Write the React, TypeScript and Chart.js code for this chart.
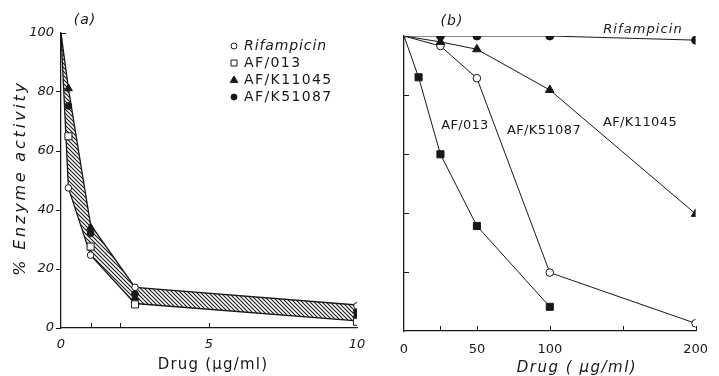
import React, { useEffect, useRef } from 'react';
import { Chart, registerables } from 'chart.js';

Chart.register(...registerables);

const INK = '#181818';
const FONT = '"DejaVu Sans", "Liberation Sans", sans-serif';

// ---------- Panel (a) ----------
const seriesNames = ['Rifampicin', 'AF/013', 'AF/K11045', 'AF/K51087'];
const doseA = [0.25, 1, 2.5, 10];
const rifampicinA = [47.5, 24.7, 13.8, 7.5];
const af013A = [65, 27.6, 8.0, 2.1];
const afK11045A = [81.2, 34, 10.3, 4.4];
const afK51087A = [75.3, 32.1, 11.5, 5.5];
const bandUpperX = [0, 0.25, 1, 2.5, 10];
const bandUpperY = [100, 81.2, 35, 13.8, 7.8];
const bandLowerX = [0, 0.25, 1, 2.5, 10];
const bandLowerY = [100, 47.5, 24.7, 8.3, 2.4];

// ---------- Panel (b) ----------
const doseB = [0, 25, 50, 100, 200];
const rifampicinB = [100, 100, 100, 100, 98.6];
const afK11045B = [100, 98, 95.5, 81.7, 39.7];
const afK51087B = [100, 96.6, 85.7, 19.8, 2.6];
const doseB013 = [0, 10, 25, 50, 100];
const af013B = [100, 86, 59.9, 35.6, 8.2];

// ---------- Ticks ----------
const yTicks = [0, 20, 40, 60, 80, 100];
const xTicksA = [0, 1, 2, 5, 10];
const xLabelsA = [0, 5, 10];
const xTicksB = [0, 25, 50, 100, 150, 200];
const xLabelsB = [0, 50, 100, 200];

const pts = (xs: number[], ys: number[]) => xs.map((x, i) => ({ x, y: ys[i] }));

function makeHatch(ctx: CanvasRenderingContext2D) {
  const c = document.createElement('canvas');
  c.width = 4;
  c.height = 4;
  const g = c.getContext('2d')!;
  g.strokeStyle = '#1a1a1a';
  g.lineWidth = 1.1;
  g.beginPath();
  g.moveTo(0, 0); g.lineTo(4, 4);
  g.moveTo(-1, 3); g.lineTo(1, 5);
  g.moveTo(3, -1); g.lineTo(5, 1);
  g.stroke();
  return ctx.createPattern(c, 'repeat');
}

type TextItem = { text: string; x: number; y: number; size: number; italic?: boolean; spacing?: number; align?: CanvasTextAlign; rotate?: number };

function textPlugin(items: TextItem[]) {
  return {
    id: 'texts',
    afterDraw(chart: any) {
      const ctx = chart.ctx as CanvasRenderingContext2D;
      for (const it of items) {
        ctx.save();
        ctx.fillStyle = INK;
        ctx.font = `${it.italic ? 'italic ' : ''}${it.size}px ${FONT}`;
        (ctx as any).letterSpacing = `${it.spacing ?? 0}px`;
        ctx.textAlign = it.align ?? 'center';
        ctx.textBaseline = 'middle';
        ctx.translate(it.x, it.y);
        if (it.rotate) ctx.rotate(it.rotate);
        ctx.fillText(it.text, 0, 0);
        ctx.restore();
      }
    },
  };
}

function inwardTicks(axes: { id: string; values: number[] }[], len: number) {
  return {
    id: 'inwardTicks',
    afterDraw(chart: any) {
      const ctx = chart.ctx as CanvasRenderingContext2D;
      ctx.save();
      ctx.strokeStyle = INK;
      ctx.lineWidth = 1;
      ctx.beginPath();
      for (const a of axes) {
        const s = chart.scales[a.id];
        for (const v of a.values) {
          const p = Math.round(s.getPixelForValue(v)) + 0.5;
          if (s.isHorizontal()) {
            ctx.moveTo(p, s.top);
            ctx.lineTo(p, s.top - len);
          } else {
            ctx.moveTo(s.right, p);
            ctx.lineTo(s.right + len, p);
          }
        }
      }
      ctx.stroke();
      ctx.restore();
    },
  };
}

function drawSymbol(ctx: CanvasRenderingContext2D, style: string, filled: boolean, x: number, y: number, r: number) {
  ctx.beginPath();
  if (style === 'circle') ctx.arc(x, y, r, 0, Math.PI * 2);
  else if (style === 'rect') ctx.rect(x - r * 0.75, y - r * 0.75, r * 1.5, r * 1.5);
  else {
    ctx.moveTo(x, y - r);
    ctx.lineTo(x + r * 0.95, y + r * 0.6);
    ctx.lineTo(x - r * 0.95, y + r * 0.6);
    ctx.closePath();
  }
  ctx.fillStyle = filled ? INK : '#fff';
  ctx.fill();
  ctx.strokeStyle = INK;
  ctx.lineWidth = 1;
  ctx.stroke();
}

const legendPlugin = {
  id: 'legendA',
  afterDraw(chart: any) {
    const ctx = chart.ctx as CanvasRenderingContext2D;
    const rows = [46, 63, 80, 97];
    for (let i = 0; i < 4; i++) {
      const ds = chart.data.datasets[i];
      ctx.save();
      drawSymbol(ctx, ds.pointStyle, ds.pointBackgroundColor !== '#fff', 234, rows[i], ds.pointStyle === 'circle' ? 3 : 4);
      ctx.fillStyle = INK;
      ctx.font = `${i === 0 ? 'italic ' : ''}14px ${FONT}`;
      (ctx as any).letterSpacing = i === 0 ? '0.9px' : '1.4px';
      ctx.textAlign = 'left';
      ctx.textBaseline = 'middle';
      ctx.fillText(ds.label, 244, rows[i]);
      ctx.restore();
    }
  },
};

const tickFontA = { family: FONT, size: 13, style: 'italic' };
const tickFontB = { family: FONT, size: 13 };

export default function App() {
  const refA = useRef<HTMLCanvasElement>(null);
  const refB = useRef<HTMLCanvasElement>(null);

  useEffect(() => {
    const ctxA = refA.current!.getContext('2d')!;
    const hatch = makeHatch(ctxA);
    const pointDs = (label: string, ys: number[], style: string, filled: boolean, r: number) => ({
      label,
      data: pts(doseA, ys),
      pointStyle: style,
      pointRadius: r,
      pointBackgroundColor: filled ? INK : '#fff',
      pointBorderColor: INK,
      pointBorderWidth: 1,
      showLine: false,
    });
    const chartA = new Chart(ctxA, {
      type: 'scatter',
      data: {
        datasets: [
          pointDs(seriesNames[0], rifampicinA, 'circle', false, 3.3),
          pointDs(seriesNames[1], af013A, 'rect', false, 5),
          pointDs(seriesNames[2], afK11045A, 'triangle', true, 4.6),
          pointDs(seriesNames[3], afK51087A, 'circle', true, 3.4),
          {
            label: 'upper',
            data: pts(bandUpperX, bandUpperY),
            showLine: true,
            pointRadius: 0,
            borderColor: INK,
            borderWidth: 1.3,
            fill: '+1',
            backgroundColor: hatch as any,
          },
          {
            label: 'lower',
            data: pts(bandLowerX, bandLowerY),
            showLine: true,
            pointRadius: 0,
            borderColor: INK,
            borderWidth: 1.3,
            fill: false,
          },
        ] as any,
      },
      options: {
        animation: false,
        responsive: false,
        layout: { padding: { top: 33, right: 23, bottom: 0, left: 0 } },
        plugins: { legend: { display: false }, tooltip: { enabled: false } },
        scales: {
          x: {
            type: 'linear',
            min: 0,
            max: 10,
            afterBuildTicks: (s: any) => { s.ticks = xTicksA.map((v) => ({ value: v })); },
            afterFit: (s: any) => { s.height = 48; },
            ticks: {
              autoSkip: false,
              maxRotation: 0,
              padding: 9,
              color: INK,
              font: tickFontA,
              callback: (v: any) => (xLabelsA.includes(v) ? String(v) : ''),
            },
            grid: { drawOnChartArea: false, drawTicks: false, color: INK },
            border: { color: INK, width: 1.3 },
          },
          y: {
            type: 'linear',
            min: 0,
            max: 100,
            afterBuildTicks: (s: any) => { s.ticks = yTicks.map((v) => ({ value: v })); },
            afterFit: (s: any) => { s.width = 61; },
            ticks: { padding: 2, color: INK, font: tickFontA },
            grid: {
              drawOnChartArea: false,
              drawTicks: true,
              tickLength: 5,
              color: (c: any) => (c.tick && c.tick.value === 100 ? 'rgba(0,0,0,0)' : INK),
            },
            border: { color: INK, width: 1.3 },
          },
        },
      } as any,
      plugins: [
        inwardTicks([
          { id: 'x', values: [1, 2, 5] },
          { id: 'y', values: [100] },
        ], 5),
        legendPlugin,
        textPlugin([
          { text: '(a)', x: 85, y: 20, size: 14, italic: true, spacing: 1 },
          { text: '% Enzyme activity', x: 21, y: 178, size: 16, italic: true, spacing: 2.8, rotate: -Math.PI / 2 },
          { text: 'Drug (µg/ml)', x: 213, y: 365, size: 15, spacing: 1.2 },
        ]),
      ],
    });

    const lineDs = (label: string, xs: number[], ys: number[], style: string, filled: boolean, r: number, r0: number) => ({
      label,
      data: pts(xs, ys),
      showLine: true,
      borderColor: INK,
      borderWidth: 1,
      pointStyle: style,
      pointRadius: (c: any) => (c.dataIndex === 0 ? r0 : r),
      pointBackgroundColor: filled ? INK : '#fff',
      pointBorderColor: INK,
      pointBorderWidth: 1,
      fill: false,
    });
    const chartB = new Chart(refB.current!, {
      type: 'scatter',
      data: {
        datasets: [
          lineDs(seriesNames[0], doseB, rifampicinB, 'circle', true, 4, 0),
          lineDs(seriesNames[2], doseB, afK11045B, 'triangle', true, 5, 0),
          lineDs(seriesNames[3], doseB, afK51087B, 'circle', false, 3.8, 1.8),
          lineDs(seriesNames[1], doseB013, af013B, 'rect', true, 5, 0),
        ] as any,
      },
      options: {
        animation: false,
        responsive: false,
        layout: { padding: { top: 36, right: 14, bottom: 0, left: 0 } },
        plugins: { legend: { display: false }, tooltip: { enabled: false } },
        scales: {
          x: {
            type: 'linear',
            min: 0,
            max: 200,
            afterBuildTicks: (s: any) => { s.ticks = xTicksB.map((v) => ({ value: v })); },
            afterFit: (s: any) => { s.height = 45; },
            ticks: {
              autoSkip: false,
              maxRotation: 0,
              padding: 11,
              color: INK,
              font: tickFontB,
              callback: (v: any) => (xLabelsB.includes(v) ? String(v) : ''),
            },
            grid: { drawOnChartArea: false, drawTicks: false, color: INK },
            border: { color: INK, width: 1.3 },
          },
          y: {
            type: 'linear',
            min: 0,
            max: 100,
            afterBuildTicks: (s: any) => { s.ticks = yTicks.map((v) => ({ value: v })); },
            afterFit: (s: any) => { s.width = 44; },
            ticks: { display: false },
            grid: { drawOnChartArea: false, drawTicks: false, color: INK },
            border: { color: INK, width: 1.3 },
          },
        },
      } as any,
      plugins: [
        inwardTicks([
          { id: 'x', values: [25, 50, 100, 150, 200] },
          { id: 'y', values: [20, 40, 60, 80] },
        ], 5),
        textPlugin([
          { text: '(b)', x: 92, y: 21, size: 14, italic: true, spacing: 1 },
          { text: 'Rifampicin', x: 283, y: 30, size: 13, italic: true, spacing: 1.1 },
          { text: 'AF/013', x: 105, y: 126, size: 13, spacing: 0.3 },
          { text: 'AF/K51087', x: 184, y: 131, size: 13, spacing: 0.4 },
          { text: 'AF/K11045', x: 280, y: 123, size: 13, spacing: 0.4 },
          { text: 'Drug ( µg/ml)', x: 217, y: 368, size: 15, italic: true, spacing: 1.5 },
        ]),
      ],
    });

    return () => {
      chartA.destroy();
      chartB.destroy();
    };
  }, []);

  return (
    <div style={{ position: 'absolute', left: 0, top: 0, width: 719, height: 376, background: '#fff', overflow: 'hidden' }}>
      <canvas ref={refA} width={380} height={376} style={{ position: 'absolute', left: 0, top: 0 }} />
      <canvas ref={refB} width={359} height={376} style={{ position: 'absolute', left: 360, top: 0 }} />
    </div>
  );
}
